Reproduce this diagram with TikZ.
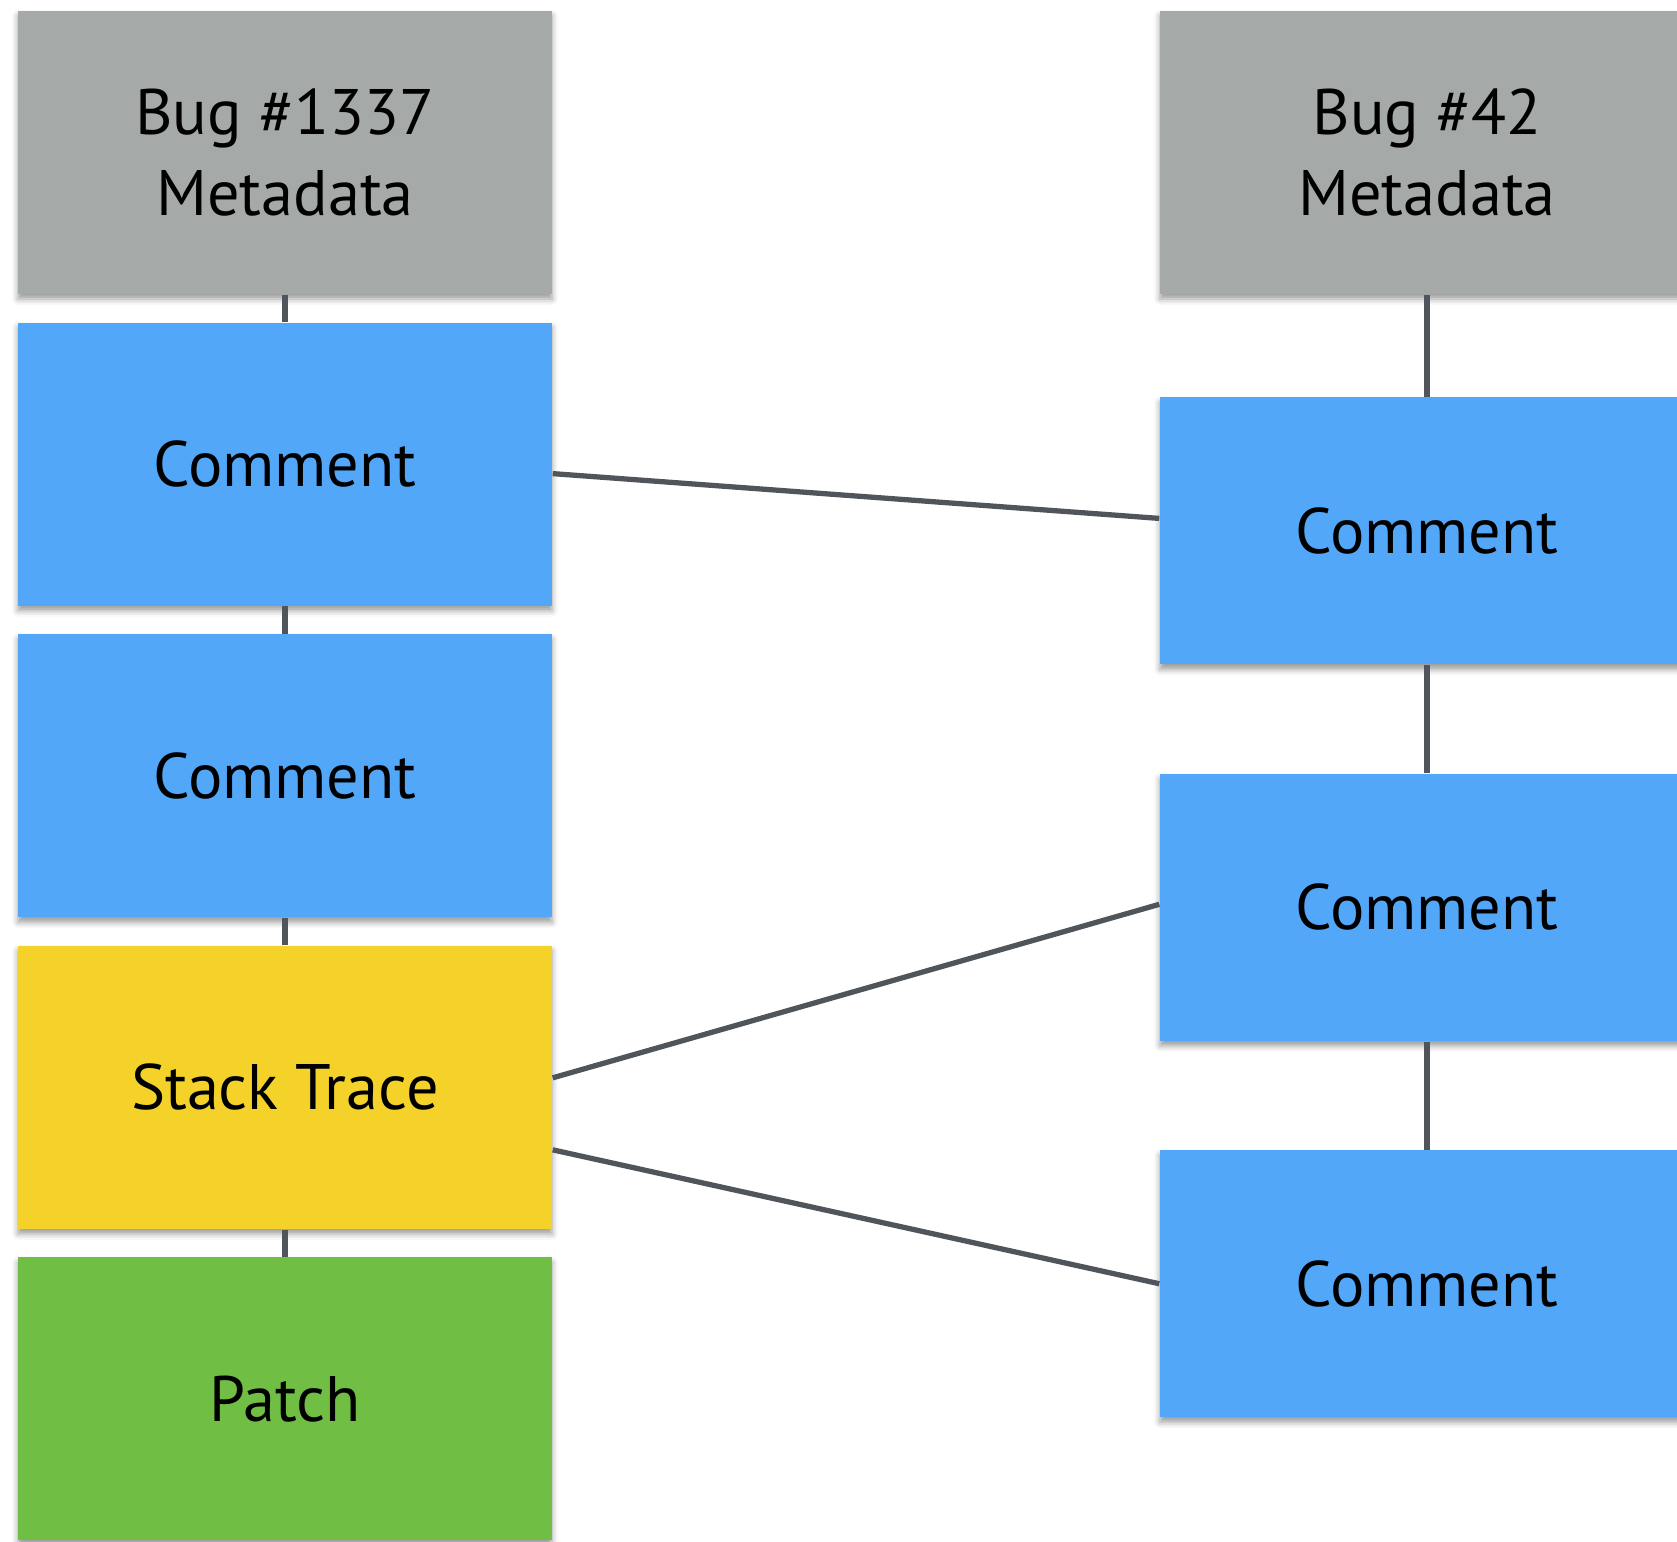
\documentclass[tikz,border=0pt]{standalone}
\usepackage{fontspec}
\setmainfont{PT Sans}
\usetikzlibrary{positioning,chains,shadows.blur}
\definecolor{metagrey}{HTML}{A5A9A8}
\definecolor{commentblue}{HTML}{52A7F8}
\definecolor{traceyellow}{HTML}{F5D22A}
\definecolor{patchgreen}{HTML}{70BF44}
\definecolor{linkgrey}{HTML}{50555C}

\begin{document}
\begin{tikzpicture}
    \tikzstyle{every node}=[font=\fontsize{18.3}{23}\selectfont]
    \tikzstyle{card}=[rectangle,inner sep=0pt,align=center,
        minimum width=5.34cm,minimum height=2.83cm,
        blur shadow={shadow xshift=0pt,shadow yshift=-0.05cm,
            shadow blur radius=0.06cm,shadow opacity=40}]
    \tikzstyle{short}=[minimum height=2.67cm]
    \tikzstyle{link}=[draw=linkgrey,line width=1.5pt]

    \useasboundingbox (0,0) rectangle (16.77,-15.41);

    %% Bug #1337 and its entries
    \begin{scope}[shift={(2.85,-1.525)},start chain=left going below,node distance=0.272cm]
        \node [on chain=left,card,fill=metagrey] (bugA) {Bug \#1337\\Metadata};
        \node [on chain=left,card,fill=commentblue] (noteA1) {Comment};
        \node [on chain=left,card,fill=commentblue] (noteA2) {Comment};
        \node [on chain=left,card,fill=traceyellow] (traceA) {Stack Trace};
        \node [on chain=left,card,fill=patchgreen] (patchA) {Patch};
    \end{scope}

    %% Bug #42 and its entries
    \node [card,fill=metagrey] at (14.27,-1.525) (bugB) {Bug \#42\\Metadata};
    \node [card,short,fill=commentblue,below=1.02cm of bugB] (noteB1) {Comment};
    \node [card,short,fill=commentblue,below=1.08cm of noteB1] (noteB2) {Comment};
    \node [card,short,fill=commentblue,below=1.08cm of noteB2] (noteB3) {Comment};

    % Links inside each bug
    \draw[link] (bugA) -- (noteA1);
    \draw[link] (noteA1) -- (noteA2);
    \draw[link] (noteA2) -- (traceA);
    \draw[link] (traceA) -- (patchA);
    \draw[link] (bugB) -- (noteB1);
    \draw[link] (noteB1) -- (noteB2);
    \draw[link] (noteB2) -- (noteB3);

    % Links between the two bugs
    \draw[link] ([yshift=-0.095cm]noteA1.east) -- ([yshift=0.125cm]noteB1.west);
    \draw[link] ([yshift=0.095cm]traceA.east) -- ([yshift=0.03cm]noteB2.west);
    \draw[link] ([yshift=-0.625cm]traceA.east) -- (noteB3.west);
\end{tikzpicture}
\end{document}
